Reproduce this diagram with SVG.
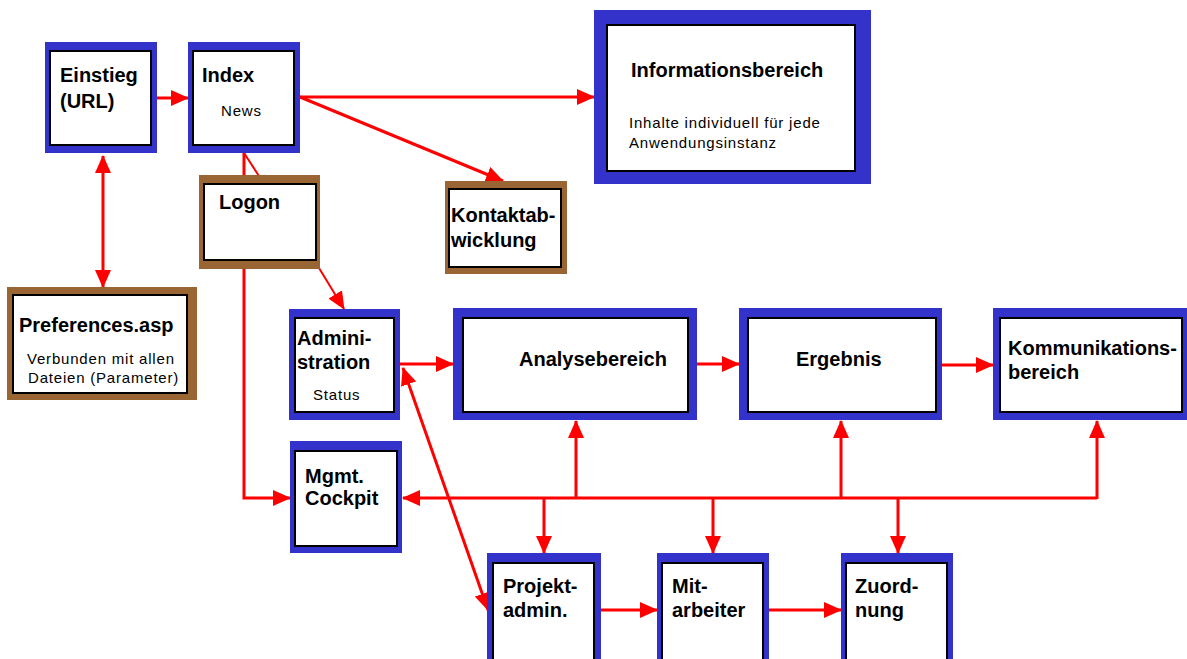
<svg xmlns="http://www.w3.org/2000/svg" width="1187" height="659" viewBox="0 0 1187 659">
  <style>
    .frame-blue { fill: #3333CC; }
    .frame-brown { fill: #996633; }
    .inner { fill: #FFFFFF; stroke: #000000; stroke-width: 2; }
    .title { font-family: "Liberation Sans", Arial, sans-serif; font-weight: bold; font-size: 20px; fill: #000000; }
    .note { font-family: "Liberation Sans", Arial, sans-serif; font-size: 15px; letter-spacing: 0.8px; fill: #000000; }
    .wire { fill: none; stroke: #FF0000; stroke-width: 3; }
    .thin { fill: none; stroke: #FF0000; stroke-width: 2; }
  </style>
  <defs>
    <marker id="head" markerUnits="userSpaceOnUse" markerWidth="18" markerHeight="16" refX="17" refY="8" orient="auto-start-reverse">
      <path d="M0,0 L18,8 L0,16 z" fill="#FF0000"/>
    </marker>
  </defs>
  <rect width="1187" height="659" fill="#FFFFFF"/>

  <!-- connectors, drawn beneath the boxes -->
  <g id="connectors">
    <path class="wire" d="M157,98 H188" marker-end="url(#head)"/>
    <path class="wire" d="M300,97 H594" marker-end="url(#head)"/>
    <path class="wire" d="M300,97 L503,181" marker-end="url(#head)"/>
    <path class="wire" d="M103,156 V287" marker-start="url(#head)" marker-end="url(#head)"/>
    <path class="wire" d="M244,153 V498 H290" marker-end="url(#head)"/>
    <path class="thin" d="M244,153 L259,176"/>
    <path class="thin" d="M319,268 L344,309" marker-end="url(#head)"/>
    <path class="wire" d="M400,364 H453" marker-end="url(#head)"/>
    <path class="wire" d="M697,364 H739" marker-end="url(#head)"/>
    <path class="wire" d="M942,365 H993" marker-end="url(#head)"/>
    <path class="wire" d="M403,368 L488,610" marker-start="url(#head)" marker-end="url(#head)"/>
    <!-- shared bus below the analysis row -->
    <path class="wire" d="M1097,498 H403" marker-end="url(#head)"/>
    <path class="wire" d="M1097,499 V421" marker-end="url(#head)"/>
    <path class="wire" d="M576,498 V421" marker-end="url(#head)"/>
    <path class="wire" d="M841,498 V421" marker-end="url(#head)"/>
    <path class="wire" d="M544,498 V553" marker-end="url(#head)"/>
    <path class="wire" d="M713,498 V553" marker-end="url(#head)"/>
    <path class="wire" d="M898,498 V553" marker-end="url(#head)"/>
    <path class="wire" d="M601,610 H657" marker-end="url(#head)"/>
    <path class="wire" d="M769,610 H841" marker-end="url(#head)"/>
  </g>

  <g id="einstieg">
    <rect class="frame-blue" x="45" y="42" width="112" height="111"/>
    <rect class="inner" x="50" y="51" width="101" height="94"/>
    <text class="title" x="60" y="82">Einstieg</text>
    <text class="title" x="60" y="108">(URL)</text>
  </g>

  <g id="index">
    <rect class="frame-blue" x="188" y="42" width="112" height="111"/>
    <rect class="inner" x="193" y="51" width="101" height="94"/>
    <text class="title" x="202" y="82">Index</text>
    <text class="note" x="221" y="116">News</text>
  </g>

  <g id="logon">
    <rect class="frame-brown" x="199" y="175" width="121" height="94"/>
    <rect class="inner" x="204" y="184" width="112" height="76"/>
    <text class="title" x="219" y="209">Logon</text>
  </g>

  <g id="kontaktabwicklung">
    <rect class="frame-brown" x="445" y="181" width="122" height="93"/>
    <rect class="inner" x="449" y="189" width="112" height="78"/>
    <text class="title" x="451" y="222">Kontaktab-</text>
    <text class="title" x="451" y="247">wicklung</text>
  </g>

  <g id="informationsbereich">
    <rect class="frame-blue" x="594" y="10" width="277" height="174"/>
    <rect class="inner" x="607" y="25" width="248" height="146"/>
    <text class="title" x="631" y="77">Informationsbereich</text>
    <text class="note" x="629" y="128">Inhalte individuell für jede</text>
    <text class="note" x="629" y="148">Anwendungsinstanz</text>
  </g>

  <g id="preferences">
    <rect class="frame-brown" x="7" y="287" width="190" height="113"/>
    <rect class="inner" x="13" y="295" width="174" height="98"/>
    <text class="title" x="19" y="332">Preferences.asp</text>
    <text class="note" x="27" y="364">Verbunden mit allen</text>
    <text class="note" x="28" y="383">Dateien (Parameter)</text>
  </g>

  <g id="administration">
    <rect class="frame-blue" x="289" y="309" width="111" height="111"/>
    <rect class="inner" x="295" y="318" width="99" height="94"/>
    <text class="title" x="297" y="345">Admini-</text>
    <text class="title" x="297" y="369">stration</text>
    <text class="note" x="313" y="400">Status</text>
  </g>

  <g id="analysebereich">
    <rect class="frame-blue" x="453" y="308" width="244" height="112"/>
    <rect class="inner" x="463" y="318" width="225" height="94"/>
    <text class="title" x="519" y="366">Analysebereich</text>
  </g>

  <g id="ergebnis">
    <rect class="frame-blue" x="739" y="308" width="203" height="112"/>
    <rect class="inner" x="748" y="318" width="188" height="94"/>
    <text class="title" x="796" y="366">Ergebnis</text>
  </g>

  <g id="kommunikationsbereich">
    <rect class="frame-blue" x="993" y="308" width="197" height="112"/>
    <rect class="inner" x="1000" y="318" width="182" height="94"/>
    <text class="title" x="1008" y="355">Kommunikations-</text>
    <text class="title" x="1008" y="379">bereich</text>
  </g>

  <g id="mgmt-cockpit">
    <rect class="frame-blue" x="290" y="441" width="112" height="112"/>
    <rect class="inner" x="295" y="451" width="102" height="95"/>
    <text class="title" x="305" y="483">Mgmt.</text>
    <text class="title" x="305" y="505">Cockpit</text>
  </g>

  <g id="projektadmin">
    <rect class="frame-blue" x="487" y="553" width="114" height="117"/>
    <rect class="inner" x="493" y="563" width="101" height="99"/>
    <text class="title" x="503" y="593">Projekt-</text>
    <text class="title" x="503" y="617">admin.</text>
  </g>

  <g id="mitarbeiter">
    <rect class="frame-blue" x="657" y="553" width="112" height="117"/>
    <rect class="inner" x="662" y="563" width="101" height="99"/>
    <text class="title" x="672" y="593">Mit-</text>
    <text class="title" x="672" y="617">arbeiter</text>
  </g>

  <g id="zuordnung">
    <rect class="frame-blue" x="841" y="553" width="112" height="117"/>
    <rect class="inner" x="846" y="563" width="101" height="99"/>
    <text class="title" x="855" y="593">Zuord-</text>
    <text class="title" x="855" y="617">nung</text>
  </g>
</svg>
